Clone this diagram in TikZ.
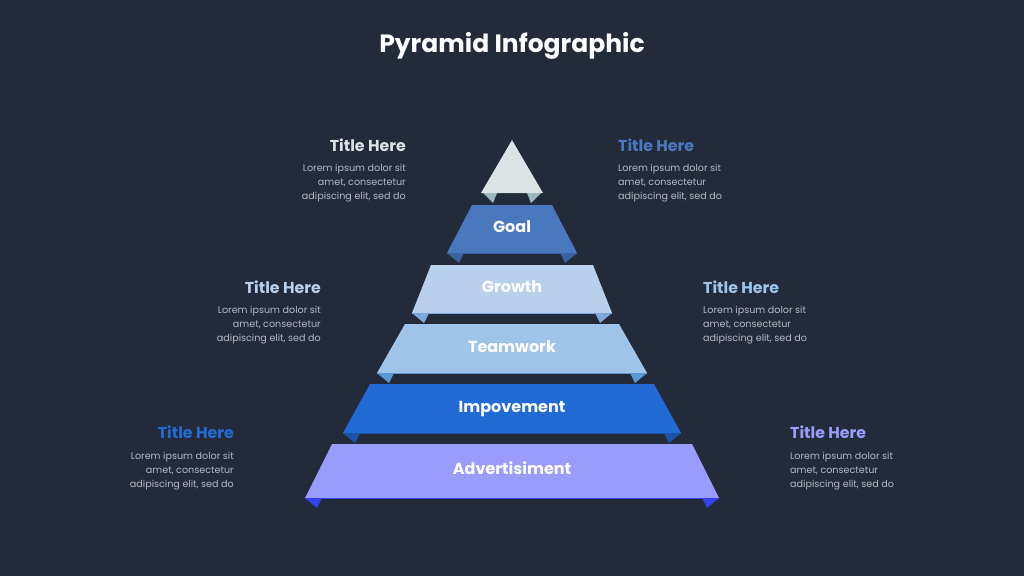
\documentclass[tikz,border=0pt]{standalone}
\usepackage{fontspec}
\setmainfont{Poppins}
\definecolor{bg}{HTML}{232B3B}
\definecolor{apexc}{HTML}{DCE3E5}
\definecolor{apexf}{HTML}{9FB8BD}
\definecolor{goalc}{HTML}{4A78BE}
\definecolor{goalf}{HTML}{3A62A0}
\definecolor{growc}{HTML}{B9D0EC}
\definecolor{growf}{HTML}{7FA8DA}
\definecolor{teamc}{HTML}{9EC4EA}
\definecolor{teamf}{HTML}{5B98D8}
\definecolor{impc}{HTML}{226BD5}
\definecolor{impf}{HTML}{1A55AC}
\definecolor{advc}{HTML}{9A9CFB}
\definecolor{advf}{HTML}{3443F2}
\definecolor{bodyc}{HTML}{B3B8C3}
\newcommand\pyrlevel[7]{%
  \fill[#6] (512-#4,#3) -- (512-#4+17,#3) -- (512-#4+12,#3+10) -- cycle;
  \fill[#6] (512+#4,#3) -- (512+#4-17,#3) -- (512+#4-12,#3+10) -- cycle;
  \fill[#5] (512-#2,#1) -- (512+#2,#1) -- (512+#4,#3) -- (512-#4,#3) -- cycle;
  \draw[#6, line width=0.5pt] (512-#4,#3) -- (512+#4,#3);
  \node[lvltext] (#7) at (512,{(#1+#3)/2}) {\strut #7};
}
\begin{document}
\begin{tikzpicture}[x=1pt,y=-1pt,
  lvltext/.style={text=white, font=\bfseries\fontsize{16}{19}\selectfont, inner sep=0pt},
  ttl/.style={font=\bfseries\fontsize{15.8}{18}\selectfont, inner sep=0pt},
  body/.style={text=bodyc, font=\fontsize{9.6}{14}\selectfont, inner sep=0pt}]
\useasboundingbox[fill=bg] (0,0) rectangle (1024,576);
\node[text=white, font=\bfseries\fontsize{25}{29}\selectfont, inner sep=0pt] (title) at (512,46) {Pyramid Infographic};
% apex
\fill[apexf] (483,193) -- (497,193) -- (493,203) -- cycle;
\fill[apexf] (541,193) -- (527,193) -- (531,203) -- cycle;
\fill[apexc] (512,140) -- (543,193) -- (481,193) -- cycle;
\node[inner sep=0pt] (apex) at (512,175) {};
% levels
\pyrlevel{205}{40}{253}{65}{goalc}{goalf}{Goal}
\pyrlevel{265}{81}{313}{100}{growc}{growf}{Growth}
\pyrlevel{324}{107}{373}{135}{teamc}{teamf}{Teamwork}
\pyrlevel{384}{142}{433}{169}{impc}{impf}{Impovement}
\pyrlevel{444}{180}{498}{207}{advc}{advf}{Advertisiment}
% side texts
\node[ttl, text=apexc, anchor=east] (t1) at (406,145) {Title Here};
\node[body, anchor=north east, align=right] (b1) at (406,164) {Lorem ipsum dolor sit\\amet, consectetur\\adipiscing elit, sed do};
\node[ttl, text=goalc, anchor=west] (t2) at (618,145) {Title Here};
\node[body, anchor=north west, align=left] (b2) at (618,164) {Lorem ipsum dolor sit\\amet, consectetur\\adipiscing elit, sed do};
\node[ttl, text=growc, anchor=east] (t3) at (321,287) {Title Here};
\node[body, anchor=north east, align=right] (b3) at (321,306) {Lorem ipsum dolor sit\\amet, consectetur\\adipiscing elit, sed do};
\node[ttl, text=teamc, anchor=west] (t4) at (703,287) {Title Here};
\node[body, anchor=north west, align=left] (b4) at (703,306) {Lorem ipsum dolor sit\\amet, consectetur\\adipiscing elit, sed do};
\node[ttl, text=impc, anchor=east] (t5) at (234,432) {Title Here};
\node[body, anchor=north east, align=right] (b5) at (234,452) {Lorem ipsum dolor sit\\amet, consectetur\\adipiscing elit, sed do};
\node[ttl, text=advc, anchor=west] (t6) at (790,432) {Title Here};
\node[body, anchor=north west, align=left] (b6) at (790,452) {Lorem ipsum dolor sit\\amet, consectetur\\adipiscing elit, sed do};
\end{tikzpicture}
\end{document}
